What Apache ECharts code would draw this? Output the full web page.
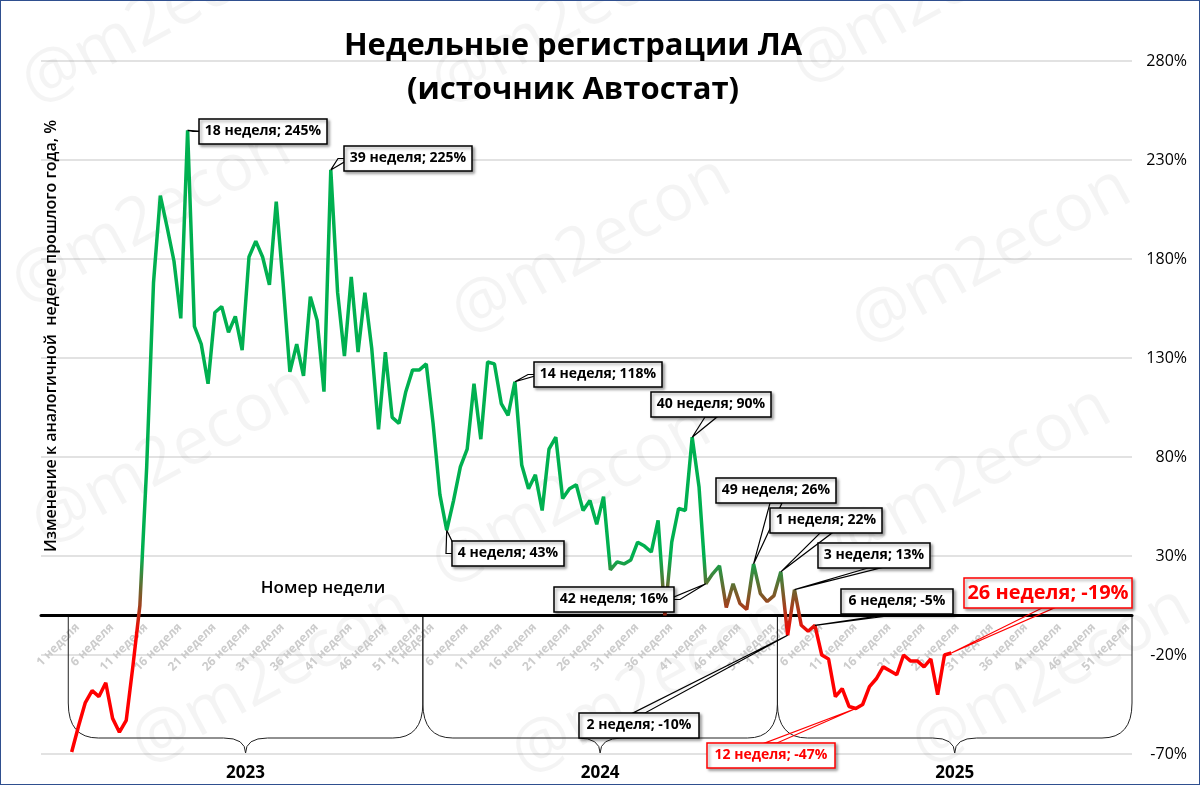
<!DOCTYPE html>
<html><head><meta charset="utf-8">
<script src="https://cdn.jsdelivr.net/npm/echarts@6/dist/echarts.min.js"></script>
<style>html,body{margin:0;padding:0;background:#fff}#c{width:1198px;height:783px;border:1px solid #2f4f8f}</style>
</head><body><div id="c"></div>
<script>
const years = ['2023','2024','2025'];
const values2023 = [-69,-56,-44,-38,-41,-34,-52,-59,-53,-25,5,75,168,212,196,179,150,245,146,137,117,153,156,143,151,134,181,189,181,167,209,168,123,137,121,161,149,113,225,163,131,171,133,163,135,94,133,100,97,113,124,124];
const values2024 = [127,97,61,43,58,75,84,117,89,128,127,107,101,118,76,64,71,53,84,90,59,64,66,53,58,46,60,23,27,26,28,37,35,32,48,0,37,54,53,90,65,16,21,25,4,16,6,3,26,11,7,10];
const values2025 = [22,-10,13,-5,-8,-5,-20,-22,-41,-37,-46,-47,-45,-36,-32,-26,-28,-30,-20,-23,-23,-26,-22,-40,-20,-19];
const LEAD = 4;
const annotations = [
  {y:0,w:18,text:'18 неделя; 245%',bx:198,by:118},
  {y:0,w:39,text:'39 неделя; 225%',bx:343,by:145},
  {y:1,w:4,text:'4 неделя; 43%',bx:451,by:540},
  {y:1,w:14,text:'14 неделя; 118%',bx:533,by:361},
  {y:1,w:40,text:'40 неделя; 90%',bx:650,by:391,anchor:'bottom'},
  {y:1,w:42,text:'42 неделя; 16%',bx:553,by:586,anchor:'right'},
  {y:1,w:49,text:'49 неделя; 26%',bx:715,by:477,anchor:'bottom'},
  {y:2,w:1,text:'1 неделя; 22%',bx:769,by:507,anchor:'bottom'},
  {y:2,w:3,text:'3 неделя; 13%',bx:817,by:542,anchor:'bottom'},
  {y:2,w:6,text:'6 неделя; -5%',bx:840,by:588,anchor:'bottom'},
  {y:2,w:2,text:'2 неделя; -10%',bx:578,by:712,anchor:'top'},
  {y:2,w:12,text:'12 неделя; -47%',bx:706,by:742,anchor:'top',color:'#ff0000'},
  {y:2,w:26,text:'26 неделя; -19%',bx:963,by:577,anchor:'bottom',color:'#ff0000',big:true}
];

const cats = [], data = [];
for (let i=0;i<LEAD;i++){cats.push('');data.push(null);}
const all=[values2023,values2024,values2025];
for (let y=0;y<3;y++) for (let w=1;w<=52;w++){cats.push(w+' неделя');const v=all[y][w-1];data.push(v===undefined?null:v);}

const chart = echarts.init(document.getElementById('c'));
const wm=[];
[[10,60],[420,60],[780,40],[0,260],[440,290],[840,300],[20,500],[420,540],[820,520],[120,720],[500,730],[900,720]].forEach(p=>wm.push({type:'text',x:p[0],y:p[1],rotation:0.5,z:0,silent:true,style:{text:'@m2econ',fill:'rgba(0,0,0,0.045)',font:'66px "Open Sans", sans-serif'}}));

chart.setOption({
  animation:false,
  title:{text:'Недельные регистрации ЛА\n(источник Автостат)',left:567,textAlign:'center',top:18,textStyle:{fontFamily:'"Open Sans", sans-serif',fontSize:31,fontWeight:'bold',color:'#000',lineHeight:44}},
  grid:{left:40,right:67,top:60,bottom:30,containLabel:false,outerBoundsMode:'none'},
  xAxis:{type:'category',data:cats,boundaryGap:true,
    axisLine:{onZero:true,lineStyle:{color:'#000',width:3}},axisTick:{show:false},axisLabel:{show:false}},
  yAxis:{type:'value',position:'right',min:-70,max:280,interval:50,
    axisLine:{show:false},axisTick:{show:false},
    axisLabel:{formatter:'{value}%',color:'#000',fontSize:16,fontFamily:'"Open Sans", sans-serif',align:'right',margin:55},
    splitLine:{lineStyle:{color:'#d9d9d9',width:1.5}}},
  visualMap:{show:false,type:'continuous',dimension:1,min:-10,max:30,inRange:{color:['#ff0000','#00b050']}},
  series:[{type:'line',data:data,showSymbol:false,lineStyle:{width:3.5},z:5}]
});

function px(idx,v){return chart.convertToPixel({xAxisIndex:0,yAxisIndex:0},[idx,v]);}
const g=[...wm];
const band = px(LEAD+1,0)[0]-px(LEAD,0)[0];
const y0 = px(0,0)[1];
for (let i=LEAD;i<cats.length;i++){ if((i-LEAD)%52%5!==0) continue;
  const x=px(i,0)[0];
  g.push({type:'text',x:x+6,y:y0+10,rotation:Math.PI/4,style:{text:cats[i],fill:'#cccccc',font:'bold 12px "Open Sans", sans-serif',align:'right',verticalAlign:'middle'}});
}
const ln={stroke:'#222',lineWidth:1,fill:null};
for (let y=0;y<3;y++){
  const x0 = px(LEAD+y*52,0)[0]-band/2, x1 = px(LEAD+y*52+51,0)[0]+band/2, xm=(x0+x1)/2;
  const b1=702, b2=737, b3=752;
  g.push({type:'line',shape:{x1:x0,y1:y0,x2:x0,y2:b1},style:ln});
  g.push({type:'line',shape:{x1:x1,y1:y0,x2:x1,y2:b1},style:ln});
  g.push({type:'bezierCurve',shape:{x1:x0,y1:b1,cpx1:x0,cpy1:b2,x2:x0+30,y2:b2},style:ln});
  g.push({type:'line',shape:{x1:x0+30,y1:b2,x2:xm-22,y2:b2},style:ln});
  g.push({type:'bezierCurve',shape:{x1:xm-22,y1:b2,cpx1:xm,cpy1:b2,x2:xm,y2:b3},style:ln});
  g.push({type:'bezierCurve',shape:{x1:xm,y1:b3,cpx1:xm,cpy1:b2,x2:xm+22,y2:b2},style:ln});
  g.push({type:'line',shape:{x1:xm+22,y1:b2,x2:x1-30,y2:b2},style:ln});
  g.push({type:'bezierCurve',shape:{x1:x1-30,y1:b2,cpx1:x1,cpy1:b2,x2:x1,y2:b1},style:ln});
  g.push({type:'text',x:xm,y:772,style:{text:years[y],fill:'#000',font:'bold 17px "Open Sans", sans-serif',align:'center',verticalAlign:'middle'}});
}
g.push({type:'text',x:322,y:587,style:{text:'Номер недели',fill:'#000',font:'600 17px "Open Sans", sans-serif',align:'center',verticalAlign:'middle'}});
g.push({type:'text',x:50,y:335,rotation:Math.PI/2,style:{text:'Изменение к аналогичной  неделе прошлого года, %',fill:'#000',font:'600 16px "Open Sans", sans-serif',align:'center',verticalAlign:'middle'}});

annotations.forEach(a=>{
  const idx=LEAD+a.y*52+a.w-1; const p=px(idx,all[a.y][a.w-1]);
  const color=a.color||'#000';
  const fs=a.big?20:14;
  const w=Math.round(a.text.length*(a.big?10.4:7.7))+12, h=a.big?30:25;
  const bx=a.bx,by=a.by;
  let ax,ay;
  if(a.anchor==='bottom'){ax=bx+w/2;ay=by+h;}
  else if(a.anchor==='top'){ax=bx+w/2;ay=by;}
  else if(a.anchor==='right'){ax=bx+w;ay=by+h/2;}
  else {ax=bx;ay=by+h/2;}
  g.push({type:'polyline',shape:{points:[[p[0],p[1]],[ax-6,ay],[ax+6,ay],[p[0],p[1]]]},style:{stroke:color,lineWidth:1.2,fill:null},z:110});
  g.push({type:'rect',shape:{x:bx,y:by,width:w,height:h},style:{fill:'#fff',stroke:color,lineWidth:1.5,shadowBlur:3,shadowColor:'rgba(0,0,0,0.35)',shadowOffsetX:2,shadowOffsetY:2},z:111});
  g.push({type:'text',x:bx+w/2,y:by+h/2,style:{text:a.text,fill:color,font:`bold ${fs}px "Open Sans", sans-serif`,align:'center',verticalAlign:'middle'},z:112});
});
chart.setOption({graphic:g});
</script></body></html>
